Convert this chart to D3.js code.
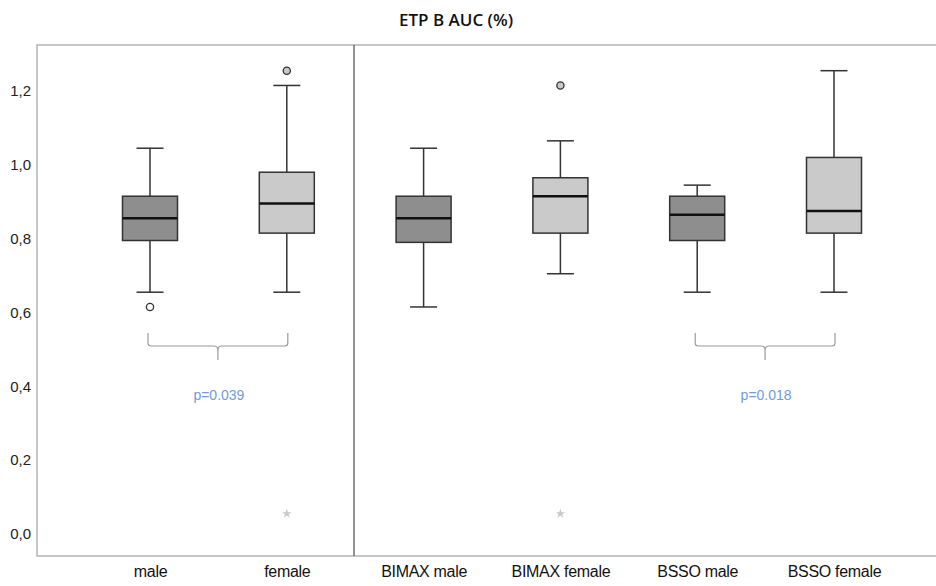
<!DOCTYPE html>
<html>
<head>
<meta charset="utf-8">
<script src="https://cdn.jsdelivr.net/npm/d3@7"></script>
<style>
  html, body { margin: 0; padding: 0; background: #fff; }
  svg { display: block; }
</style>
</head>
<body>
<svg id="chart" width="936" height="586"></svg>
<script>
// Groups along the x axis
const categories = ["male", "female", "BIMAX male", "BIMAX female", "BSSO male", "BSSO female"];
const sex = ["male", "female", "male", "female", "male", "female"];

// Box-plot statistics per group
const whiskerLow  = [0.655, 0.655, 0.615, 0.705, 0.655, 0.655];
const q1          = [0.795, 0.815, 0.790, 0.815, 0.795, 0.815];
const median      = [0.855, 0.895, 0.855, 0.915, 0.865, 0.875];
const q3          = [0.915, 0.980, 0.915, 0.965, 0.915, 1.020];
const whiskerHigh = [1.045, 1.215, 1.045, 1.065, 0.945, 1.255];

// Outliers (circles) and extreme values (stars)
const outlierGroup = ["male", "female", "BIMAX female"];
const outlierValue = [0.615, 1.255, 1.215];
const extremeGroup = ["female", "BIMAX female"];
const extremeValue = [0.055, 0.055];

// Group comparisons
const comparePairs = [["male", "female"], ["BSSO male", "BSSO female"]];
const compareLabels = ["p=0.039", "p=0.018"];

const yTicks = [0, 0.2, 0.4, 0.6, 0.8, 1.0, 1.2];

const svg = d3.select("#chart");
const frame = { left: 37, right: 936, top: 45, bottom: 556 };

const x = d3.scalePoint().domain(categories).range([150, 834]);
const y = d3.scaleLinear().domain([0, 1.2]).range([534, 91]);

const fillFor = s => s === "male" ? "#8e8e8e" : "#cacaca";
const boxW = 55, capW = 27;

// Title
svg.append("text")
  .attr("x", 456).attr("y", 26)
  .attr("text-anchor", "middle")
  .attr("font-family", "'Open Sans', sans-serif")
  .attr("font-weight", 600)
  .attr("font-size", 17)
  .attr("fill", "#111")
  .text("ETP B AUC (%)");

// Plot frame
svg.append("path")
  .attr("d", `M${frame.right},${frame.top}H${frame.left}V${frame.bottom}H${frame.right}`)
  .attr("fill", "none").attr("stroke", "#b4b4b4").attr("stroke-width", 1.5);

// Divider between overall and surgery-type groups
svg.append("line")
  .attr("x1", 354).attr("x2", 354)
  .attr("y1", frame.top).attr("y2", frame.bottom)
  .attr("stroke", "#6e6e6e").attr("stroke-width", 1.5);

// Y axis labels
const yAxis = d3.axisLeft(y)
  .tickValues(yTicks)
  .tickSize(0)
  .tickPadding(0)
  .tickFormat(d => d3.format(".1f")(d).replace(".", ","));
const yg = svg.append("g").attr("transform", "translate(31,0)").call(yAxis);
yg.select(".domain").remove();
yg.selectAll("text")
  .attr("font-family", "'Liberation Sans', Arial, sans-serif")
  .attr("font-size", 15).attr("fill", "#222");

// X axis labels
const xAxis = d3.axisBottom(x).tickSize(0).tickPadding(0);
const xg = svg.append("g").attr("transform", "translate(0,566)").call(xAxis);
xg.select(".domain").remove();
xg.selectAll("text")
  .attr("font-family", "'Liberation Sans', Arial, sans-serif")
  .attr("font-size", 16).attr("letter-spacing", -0.3).attr("fill", "#111");

// Boxes
const boxes = categories.map((c, i) => ({
  c, s: sex[i], lo: whiskerLow[i], q1: q1[i], md: median[i], q3: q3[i], hi: whiskerHigh[i]
}));

const g = svg.append("g").selectAll("g").data(boxes).join("g")
  .attr("transform", d => `translate(${x(d.c)},0)`);

g.append("line").attr("x1", 0).attr("x2", 0)
  .attr("y1", d => y(d.hi)).attr("y2", d => y(d.q3))
  .attr("stroke", "#333").attr("stroke-width", 1.5);
g.append("line").attr("x1", 0).attr("x2", 0)
  .attr("y1", d => y(d.q1)).attr("y2", d => y(d.lo))
  .attr("stroke", "#333").attr("stroke-width", 1.5);
g.append("line").attr("x1", -capW / 2).attr("x2", capW / 2)
  .attr("y1", d => y(d.hi)).attr("y2", d => y(d.hi))
  .attr("stroke", "#333").attr("stroke-width", 1.5);
g.append("line").attr("x1", -capW / 2).attr("x2", capW / 2)
  .attr("y1", d => y(d.lo)).attr("y2", d => y(d.lo))
  .attr("stroke", "#333").attr("stroke-width", 1.5);
g.append("rect")
  .attr("x", -boxW / 2).attr("width", boxW)
  .attr("y", d => y(d.q3)).attr("height", d => y(d.q1) - y(d.q3))
  .attr("fill", d => fillFor(d.s))
  .attr("stroke", "#333").attr("stroke-width", 1.5);
g.append("line").attr("x1", -boxW / 2).attr("x2", boxW / 2)
  .attr("y1", d => y(d.md)).attr("y2", d => y(d.md))
  .attr("stroke", "#111").attr("stroke-width", 2.5);

// Outliers
svg.append("g").selectAll("circle")
  .data(outlierGroup.map((c, i) => ({ c, v: outlierValue[i] })))
  .join("circle")
  .attr("cx", d => x(d.c)).attr("cy", d => y(d.v)).attr("r", 3.6)
  .attr("fill", d => d.c.endsWith("female") ? "#c8c8c8" : "#fff")
  .attr("stroke", "#333").attr("stroke-width", 1.3);

// Extreme values
svg.append("g").selectAll("path")
  .data(extremeGroup.map((c, i) => ({ c, v: extremeValue[i] })))
  .join("path")
  .attr("transform", d => `translate(${x(d.c)},${y(d.v)})`)
  .attr("d", d3.symbol(d3.symbolStar, 28))
  .attr("fill", "#c8c8c8");

// Comparison braces with p-values
const braceTop = 333, braceMid = 346, braceTip = 360;
comparePairs.forEach((pair, i) => {
  const x0 = x(pair[0]) - 2, x1 = x(pair[1]) + 1, xm = (x0 + x1) / 2;
  const p = d3.path();
  p.moveTo(x0, braceTop);
  p.lineTo(x0, braceMid - 3);
  p.quadraticCurveTo(x0, braceMid, x0 + 3, braceMid);
  p.lineTo(xm - 4, braceMid);
  p.quadraticCurveTo(xm, braceMid, xm, braceMid + 4);
  p.lineTo(xm, braceTip);
  p.moveTo(xm, braceMid + 4);
  p.quadraticCurveTo(xm, braceMid, xm + 4, braceMid);
  p.lineTo(x1 - 3, braceMid);
  p.quadraticCurveTo(x1, braceMid, x1, braceMid - 3);
  p.lineTo(x1, braceTop);
  svg.append("path").attr("d", p.toString())
    .attr("fill", "none").attr("stroke", "#9a9a9a").attr("stroke-width", 1.2);
  svg.append("text")
    .attr("x", xm + 1).attr("y", 400)
    .attr("text-anchor", "middle")
    .attr("font-family", "'Liberation Sans', Arial, sans-serif")
    .attr("font-size", 14)
    .attr("fill", "#6f9be0")
    .text(compareLabels[i]);
});
</script>
</body>
</html>
